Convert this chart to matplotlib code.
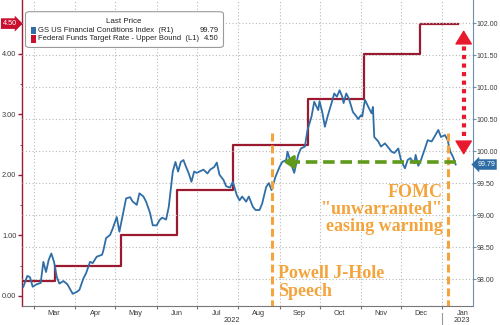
import matplotlib
matplotlib.use("Agg")
import matplotlib.pyplot as plt
import matplotlib.dates as mdates
import matplotlib.transforms as mtransforms
from matplotlib.patches import FancyBboxPatch, Rectangle
import pandas as pd

# ---------------- data ----------------
fci_dates = ["2022-02-21", "2022-02-24", "2022-02-26", "2022-02-28", "2022-03-03", "2022-03-06",
             "2022-03-08", "2022-03-10", "2022-03-12", "2022-03-14", "2022-03-16", "2022-03-18",
             "2022-03-20", "2022-03-23", "2022-03-26", "2022-03-30", "2022-04-02", "2022-04-04",
             "2022-04-07", "2022-04-09", "2022-04-12", "2022-04-14", "2022-04-17", "2022-04-21",
             "2022-04-22", "2022-04-24", "2022-04-27", "2022-04-29", "2022-05-02", "2022-05-04",
             "2022-05-07", "2022-05-09", "2022-05-12", "2022-05-14", "2022-05-17", "2022-05-19",
             "2022-05-22", "2022-05-24", "2022-05-27", "2022-05-29", "2022-06-01", "2022-06-03",
             "2022-06-05", "2022-06-08", "2022-06-10", "2022-06-13", "2022-06-15", "2022-06-17",
             "2022-06-19", "2022-06-21", "2022-06-23", "2022-06-25", "2022-06-27", "2022-06-29",
             "2022-07-01", "2022-07-04", "2022-07-06", "2022-07-09", "2022-07-11", "2022-07-14",
             "2022-07-16", "2022-07-18", "2022-07-21", "2022-07-23", "2022-07-26", "2022-07-28",
             "2022-07-31", "2022-08-02", "2022-08-04", "2022-08-07", "2022-08-09", "2022-08-12",
             "2022-08-14", "2022-08-17", "2022-08-19", "2022-08-22", "2022-08-24", "2022-08-26",
             "2022-08-29", "2022-09-01", "2022-09-03", "2022-09-06", "2022-09-07", "2022-09-10",
             "2022-09-12", "2022-09-15", "2022-09-17", "2022-09-20", "2022-09-22", "2022-09-25",
             "2022-09-27", "2022-09-30", "2022-10-01", "2022-10-03", "2022-10-05", "2022-10-07",
             "2022-10-10", "2022-10-12", "2022-10-14", "2022-10-16", "2022-10-18", "2022-10-19",
             "2022-10-21", "2022-10-23", "2022-10-26", "2022-10-28", "2022-10-30", "2022-11-01",
             "2022-11-02", "2022-11-04", "2022-11-07", "2022-11-09", "2022-11-10", "2022-11-11",
             "2022-11-14", "2022-11-16", "2022-11-19", "2022-11-21", "2022-11-24", "2022-11-26",
             "2022-11-29", "2022-12-01", "2022-12-04", "2022-12-06", "2022-12-08", "2022-12-11",
             "2022-12-12", "2022-12-14", "2022-12-16", "2022-12-19", "2022-12-21", "2022-12-24",
             "2022-12-26", "2022-12-29", "2022-12-31", "2023-01-03", "2023-01-05", "2023-01-07",
             "2023-01-09", "2023-01-11"]
fci_values = [97.88, 98.05, 98.03, 97.88, 97.92, 97.94,
              98.27, 98.11, 98.30, 98.40, 98.27, 98.04,
              97.93, 97.97, 97.92, 97.77, 97.80, 97.83,
              98.01, 98.09, 98.27, 98.25, 98.35, 98.38,
              98.45, 98.64, 98.69, 98.79, 98.97, 98.74,
              99.05, 99.26, 99.28, 99.21, 99.16, 99.34,
              99.29, 99.21, 99.03, 98.84, 98.84, 98.92,
              98.96, 98.93, 99.13, 99.68, 99.83, 99.68,
              99.83, 99.86, 99.75, 99.65, 99.52, 99.68,
              99.66, 99.69, 99.71, 99.65, 99.71, 99.75,
              99.82, 99.63, 99.55, 99.45, 99.43, 99.52,
              99.31, 99.23, 99.29, 99.21, 99.29, 99.13,
              99.08, 99.08, 99.18, 99.44, 99.50, 99.39,
              99.60, 99.75, 99.83, 99.86, 99.99, 99.78,
              99.66, 99.94, 100.04, 100.07, 100.33, 100.54,
              100.77, 100.64, 100.78, 100.61, 100.38, 100.54,
              100.75, 100.90, 100.85, 100.95, 100.85, 100.75,
              100.90, 100.82, 100.61, 100.56, 100.50, 100.56,
              100.54, 100.80, 100.67, 100.59, 100.69, 100.22,
              100.15, 100.07, 100.12, 100.07, 99.99, 99.97,
              100.04, 99.86, 99.73, 99.86, 99.89, 99.81,
              99.94, 99.77, 99.86, 100.04, 100.17, 100.15,
              100.22, 100.33, 100.22, 100.25, 100.17, 99.99,
              99.91, 99.79]

fed_dates = ["2022-02-20", "2022-03-17", "2022-05-05", "2022-06-16", "2022-07-28",
             "2022-09-22", "2022-11-03", "2022-12-15", "2023-01-13"]
fed_values = [0.25, 0.50, 1.00, 1.75, 2.50, 3.25, 4.00, 4.50, 4.50]

fci_label = "GS US Financial Conditions Index  (R1)"
fed_label = "Federal Funds Target Rate - Upper Bound  (L1)"
fci_last = "99.79"
fed_last = "4.50"

left_ticks = [0, 1, 2, 3, 4]
right_ticks = [98.0, 98.5, 99.0, 99.5, 100.0, 100.5, 101.0, 101.5, 102.0]

powell_date = "2022-08-26"
fomc_date = "2023-01-05"
green_level = 99.83
green_from, green_to = "2023-01-11", "2022-09-04"
red_arrow_date = "2023-01-17"
red_arrow_low, red_arrow_high = 99.94, 101.89

# ---------------- styling ----------------
BLUE = "#2f6ea6"
MAROON = "#9a1b2f"
ORANGE = "#f4a43c"
GREEN = "#5f9a1c"
RED = "#e8192c"
TICKC = "#3a3a3a"
GRIDC = "#b8b8b8"

plt.rcParams["font.family"] = ["Liberation Sans", "DejaVu Sans"]

fig = plt.figure(figsize=(5, 3.25), dpi=100)
ax = fig.add_axes([0.044, 0.0585, 0.902, 0.9415])
ax2 = ax.twinx()

fd = pd.to_datetime(fci_dates)
rd = pd.to_datetime(fed_dates)

xmin, xmax = pd.Timestamp("2022-02-20"), pd.Timestamp("2023-01-24")
ax.set_xlim(xmin, xmax)
ax.set_ylim(-0.165, 4.89)
ax2.set_ylim(97.58, 102.36)

# grids
ax.xaxis.set_major_locator(mdates.MonthLocator())
ax.xaxis.set_minor_locator(mdates.MonthLocator(bymonthday=16))
ax.xaxis.set_major_formatter(plt.NullFormatter())
ax.xaxis.set_minor_formatter(mdates.DateFormatter("%b"))
ax.grid(axis="x", which="major", color=GRIDC, linestyle=(0, (1, 2)), linewidth=0.8)
ax2.grid(axis="y", which="major", color=GRIDC, linestyle=(0, (1, 2)), linewidth=0.8)
ax2.set_axisbelow(True)

# series
ax.step(rd, fed_values, where="post", color=MAROON, linewidth=1.6, zorder=3)
ax2.plot(fd, fci_values, color=BLUE, linewidth=1.3, zorder=3)

# axes styling
for a in (ax, ax2):
    a.spines["top"].set_visible(False)
ax.spines["left"].set_color(MAROON)
ax.spines["left"].set_linewidth(1.0)
ax2.spines["left"].set_visible(False)
ax2.spines["right"].set_color("#6f8fae")
ax2.spines["bottom"].set_visible(False)
ax.spines["right"].set_visible(False)
ax.spines["bottom"].set_color("#777777")

ax.set_yticks(left_ticks)
ax.set_yticklabels([f"{v:.2f}" for v in left_ticks])
ax.yaxis.set_minor_locator(plt.MultipleLocator(0.5))
ax.tick_params(axis="y", which="major", direction="out", length=3, width=1.0, color=MAROON,
               labelsize=5.3, labelcolor=TICKC, pad=1)
ax.tick_params(axis="y", which="minor", direction="out", length=1.5, width=0.6, color=MAROON)
ax2.set_yticks(right_ticks)
ax2.set_yticklabels([f"{v:.2f}" for v in right_ticks])
ax2.tick_params(axis="y", which="major", direction="out", length=2, width=0.8, color="#6f8fae",
                labelsize=5.0, labelcolor=TICKC, pad=0.8)
ax.tick_params(axis="x", which="major", direction="out", length=2, color="#777777")
ax.tick_params(axis="x", which="minor", length=0, labelsize=5.3, labelcolor=TICKC, pad=3)

# year labels + separator
trans = mtransforms.blended_transform_factory(ax.transData, ax.transAxes)
ax.text(pd.Timestamp("2022-07-27"), -0.049, "2022", transform=trans, ha="center", va="center",
        fontsize=5.3, color=TICKC, clip_on=False)
ax.text(pd.Timestamp("2023-01-16"), -0.049, "2023", transform=trans, ha="center", va="center",
        fontsize=5.3, color=TICKC, clip_on=False)
ax.plot([pd.Timestamp("2023-01-01")] * 2, [-0.023, -0.065], transform=trans, color="#999999",
        linewidth=0.8, clip_on=False)

# orange event lines
ylo = 97.4
for d in (powell_date, fomc_date):
    ax2.plot([pd.Timestamp(d)] * 2, [100.28, ylo], color=ORANGE, linewidth=2.2,
             dashes=(2.6, 1.3), zorder=5, clip_on=True)

serif = ["Liberation Serif", "DejaVu Serif"]
ax2.text(pd.Timestamp("2022-08-31"), 97.95, "Powell J-Hole\nSpeech", family=serif,
         fontweight="bold", fontsize=13, color=ORANGE, ha="left", va="center",
         linespacing=1.05, zorder=6)
ax2.text(pd.Timestamp("2023-01-01"), 99.08, "FOMC\n\"unwarranted\"\neasing warning", family=serif,
         fontweight="bold", fontsize=13, color=ORANGE, ha="right", va="center",
         linespacing=1.0, zorder=6)

# green dashed arrow
g0, g1 = pd.Timestamp(green_from), pd.Timestamp(green_to)
ax2.plot([g0, g1 + pd.Timedelta(days=6)], [green_level] * 2, color=GREEN, linewidth=2.6,
         dashes=(3.2, 1.6), zorder=6, solid_capstyle="butt")
ax2.annotate("", xy=(g1, green_level), xytext=(g1 + pd.Timedelta(days=8), green_level),
             arrowprops=dict(arrowstyle="-|>,head_length=0.6,head_width=0.4", color=GREEN,
                             lw=2.0, shrinkA=0, shrinkB=0), zorder=6)

# red dotted double arrow
rx = pd.Timestamp(red_arrow_date)
ax2.plot([rx, rx], [red_arrow_low + 0.3, red_arrow_high - 0.25], color=RED, linewidth=3.0,
         dashes=(1, 1.05), zorder=6)
ax2.annotate("", xy=(rx, red_arrow_high), xytext=(rx, red_arrow_high - 0.1),
             arrowprops=dict(arrowstyle="-|>,head_length=0.9,head_width=0.55", color=RED, lw=1,
                             shrinkA=0, shrinkB=0), zorder=6)
ax2.annotate("", xy=(rx, red_arrow_low), xytext=(rx, red_arrow_low + 0.1),
             arrowprops=dict(arrowstyle="-|>,head_length=0.9,head_width=0.55", color=RED, lw=1,
                             shrinkA=0, shrinkB=0), zorder=6)

# last price tags
tl = mtransforms.blended_transform_factory(ax.transAxes, ax.transData)
ax.text(-0.027, fed_values[-1], fed_last, transform=tl, ha="center", va="center", fontsize=5.2,
        color="white", clip_on=False, zorder=10,
        bbox=dict(boxstyle="rarrow,pad=0.25", fc="#c8102e", ec="none"))
tr = mtransforms.blended_transform_factory(ax2.transAxes, ax2.transData)
ax2.text(1.029, fci_values[-1], fci_last, transform=tr, ha="center", va="center", fontsize=5.0,
         color="white", clip_on=False, zorder=10,
         bbox=dict(boxstyle="larrow,pad=0.25", fc="#2e6da4", ec="none"))

# legend box
fig.patches.append(FancyBboxPatch((0.054, 0.857), 0.39, 0.104, boxstyle="round,pad=0.003,rounding_size=0.008",
                                  transform=fig.transFigure, fc="white", ec="#9a9a9a", lw=0.8,
                                  zorder=20))
fig.text(0.248, 0.935, "Last Price", ha="center", va="center", fontsize=5.8, color="#222222", zorder=21)
for yy, col, lab, val in ((0.907, BLUE, fci_label, fci_last), (0.880, "#c8102e", fed_label, fed_last)):
    fig.patches.append(Rectangle((0.061, yy - 0.011), 0.011, 0.022, transform=fig.transFigure,
                                 fc=col, ec="none", zorder=21))
    fig.text(0.077, yy, lab, ha="left", va="center", fontsize=5.5, color="#222222", zorder=21)
    fig.text(0.438, yy, val, ha="right", va="center", fontsize=5.5, color="#222222", zorder=21)

fig.savefig("out.png", dpi=100)
